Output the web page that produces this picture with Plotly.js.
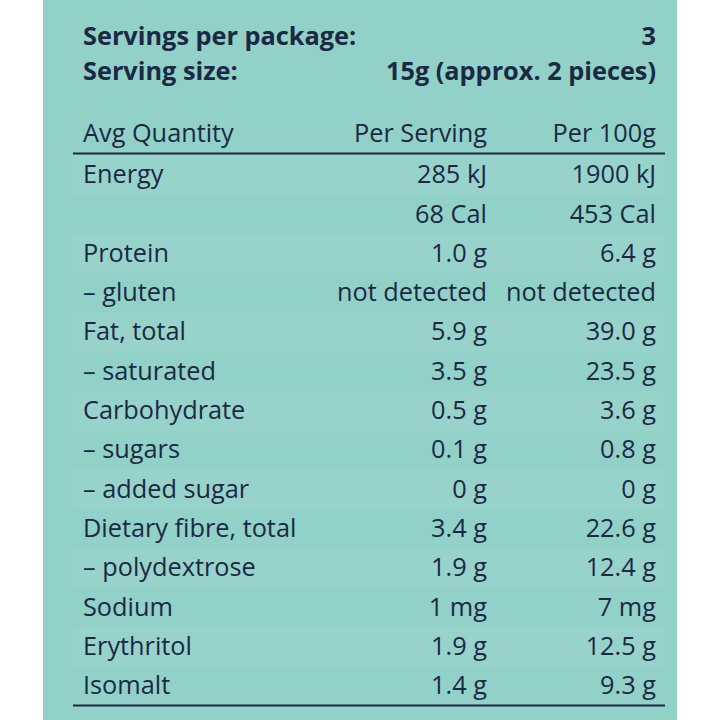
<!DOCTYPE html>
<html>
<head>
<meta charset="utf-8">
<script src="https://cdn.plot.ly/plotly-3.0.1.min.js"></script>
<style>html,body{margin:0;padding:0;background:#fff}</style>
</head>
<body>
<div id="chart" style="width:720px;height:720px"></div>
<script>
// nutrition panel data
var summaryLabels = ['Servings per package:', 'Serving size:'];
var summaryValues = ['3', '15g (approx. 2 pieces)'];
var headers = ['Avg Quantity', 'Per Serving', 'Per 100g'];
var nutrients = ['Energy', '', 'Protein', '– gluten', 'Fat, total', '– saturated', 'Carbohydrate',
    '– sugars', '– added sugar', 'Dietary fibre, total', '– polydextrose', 'Sodium', 'Erythritol', 'Isomalt'];
var perServing = ['285 kJ', '68 Cal', '1.0 g', 'not detected', '5.9 g', '3.5 g', '0.5 g',
    '0.1 g', '0 g', '3.4 g', '1.9 g', '1 mg', '1.9 g', '1.4 g'];
var per100g = ['1900 kJ', '453 Cal', '6.4 g', 'not detected', '39.0 g', '23.5 g', '3.6 g',
    '0.8 g', '0 g', '22.6 g', '12.4 g', '7 mg', '12.5 g', '9.3 g'];

var ink = '#1b2943';
var rows = nutrients.map(function (d, i) { return i; });
var colLeft = 83, colServ = 487, col100 = 656;
var fs = 25.3;
var nudge = 0.05; // text sits a touch lower than the row centre

function textTrace(xs, ys, texts, pos, bold) {
    return {
        x: xs, y: ys.map(function (v) { return v + nudge; }), text: texts, mode: 'text', type: 'scatter',
        textposition: pos, hoverinfo: 'skip', showlegend: false,
        textfont: {family: 'Open Sans', size: fs, color: ink, weight: bold ? 700 : 400}
    };
}

var summaryRows = [-3.53, -2.62];
var headerRow = [-1.04];

var data = [
    textTrace(summaryRows.map(function () { return colLeft; }), summaryRows, summaryLabels, 'middle right', true),
    textTrace(summaryRows.map(function () { return col100; }), summaryRows, summaryValues, 'middle left', true),
    textTrace([colLeft], headerRow, [headers[0]], 'middle right', false),
    textTrace([colServ], headerRow, [headers[1]], 'middle left', false),
    textTrace([col100], headerRow, [headers[2]], 'middle left', false),
    textTrace(rows.map(function () { return colLeft; }), rows, nutrients, 'middle right', false),
    textTrace(rows.map(function () { return colServ; }), rows, perServing, 'middle left', false),
    textTrace(rows.map(function () { return col100; }), rows, per100g, 'middle left', false)
];

var shapes = [
    {type: 'rect', xref: 'x', yref: 'paper', x0: 43, x1: 677, y0: 0, y1: 1,
     fillcolor: '#92d1c8', line: {width: 0}, layer: 'below'}
];
rows.forEach(function (i) {
    if (i % 2 === 0) {
        shapes.push({type: 'rect', xref: 'x', yref: 'y', x0: 73, x1: 665, y0: i - 0.5, y1: i + 0.5,
            fillcolor: 'rgba(255,255,255,0.06)', line: {width: 0}, layer: 'below'});
    }
});
shapes.push({type: 'line', xref: 'x', yref: 'y', x0: 73, x1: 665, y0: -0.55, y1: -0.55,
    line: {color: ink, width: 2}});
shapes.push({type: 'line', xref: 'x', yref: 'y', x0: 73, x1: 665, y0: rows.length - 0.5, y1: rows.length - 0.5,
    line: {color: ink, width: 2}});

var layout = {
    width: 720,
    height: 720,
    margin: {l: 0, r: 0, t: 0, b: 0},
    paper_bgcolor: '#ffffff',
    plot_bgcolor: 'rgba(0,0,0,0)',
    xaxis: {range: [0, 720], visible: false, fixedrange: true},
    yaxis: {range: [13.868, -4.453], visible: false, fixedrange: true},
    shapes: shapes,
    hovermode: false
};

Plotly.newPlot('chart', data, layout, {displayModeBar: false, staticPlot: true});
</script>
</body>
</html>
